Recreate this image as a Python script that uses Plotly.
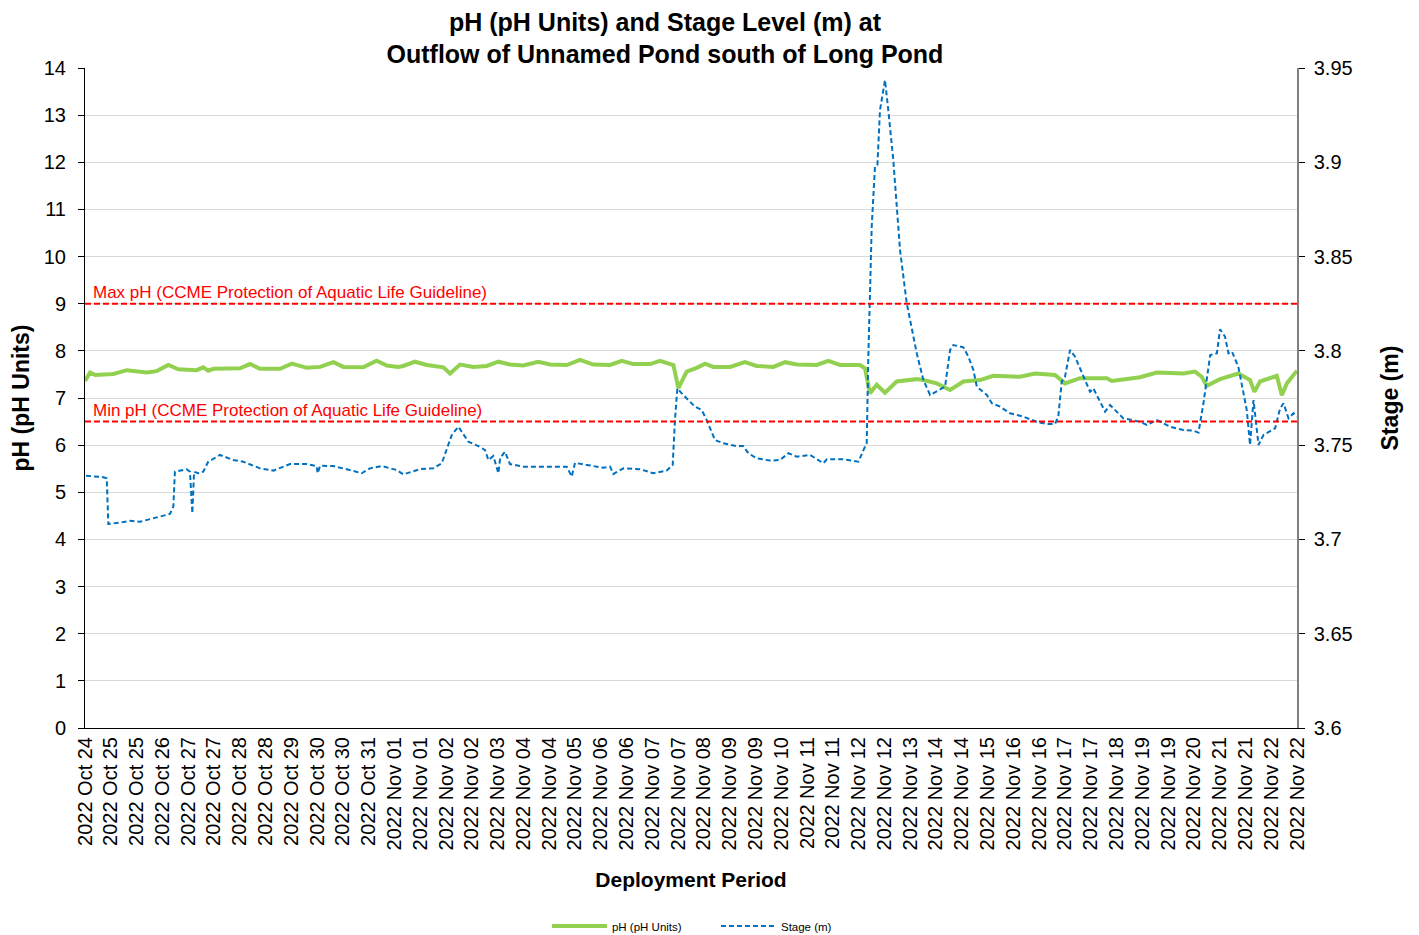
import pandas as pd
import plotly.graph_objects as go

# axis window (Excel date axis) - start time and length in hours
deploy_start = pd.Timestamp("2022-10-24 15:22")
axis_span_h = 702.2

# pH logger (hours since deploy_start)
ph_hours = [0, 2.9, 5.8, 16.4, 24.2, 30.0, 35.7, 41.5, 48.3, 54.1,
            64.7, 68.5, 71.4, 74.3, 89.8, 95.6, 101.4, 113.0, 119.8, 128.5,
            136.2, 143.9, 149.7, 161.2, 169.0, 174.8, 181.5, 184.4, 191.2, 198.0,
            207.6, 211.5, 217.3, 225.0, 232.7, 239.5, 246.2, 253.9, 262.6, 269.4,
            279.1, 286.8, 294.5, 304.2, 311.0, 317.7, 327.4, 333.2, 340.9, 343.8,
            348.6, 354.4, 359.3, 364.0, 373.7, 382.4, 389.2, 398.8, 405.6, 412.4,
            423.9, 430.7, 437.4, 449.0, 451.9, 454.8, 458.7, 463.5, 470.3, 481.9,
            485.7, 493.5, 501.2, 508.9, 518.6, 526.3, 535.0, 541.7, 550.4, 562.0,
            564.9, 567.8, 576.5, 592.0, 594.9, 601.6, 611.3, 621.0, 636.4, 643.1,
            647.0, 649.9, 657.6, 668.2, 675.0, 677.5, 680.8, 690.5, 693.4, 696.3,
            702.2]
ph_values = [7.36, 7.54, 7.49, 7.51, 7.59, 7.56, 7.54, 7.57, 7.70, 7.61,
             7.59, 7.65, 7.58, 7.62, 7.63, 7.72, 7.62, 7.62, 7.73, 7.64,
             7.66, 7.76, 7.66, 7.65, 7.79, 7.69, 7.66, 7.68, 7.77, 7.70,
             7.65, 7.52, 7.71, 7.66, 7.68, 7.77, 7.71, 7.69, 7.77, 7.71,
             7.70, 7.81, 7.71, 7.70, 7.79, 7.72, 7.72, 7.79, 7.70, 7.21,
             7.56, 7.64, 7.73, 7.66, 7.66, 7.76, 7.68, 7.66, 7.76, 7.71,
             7.70, 7.79, 7.70, 7.70, 7.63, 7.10, 7.28, 7.11, 7.35, 7.40,
             7.38, 7.31, 7.17, 7.35, 7.38, 7.47, 7.45, 7.45, 7.52, 7.49,
             7.40, 7.31, 7.42, 7.42, 7.36, 7.40, 7.44, 7.54, 7.52, 7.56,
             7.45, 7.26, 7.40, 7.52, 7.38, 7.13, 7.35, 7.47, 7.06, 7.31,
             7.58]

# stage level (m)
stage_hours = [0.6, 10.6, 12.6, 13.5, 20.3, 26.1, 31.9, 37.7, 43.5, 49.2,
               51.2, 52.1, 58.9, 60.8, 62.2, 63.2, 65.6, 68.5, 71.4, 78.2,
               85.9, 91.7, 101.4, 109.1, 118.8, 128.5, 134.2, 134.8, 136.2, 143.9,
               151.6, 160.3, 165.1, 171.9, 180.6, 184.4, 194.1, 201.8, 206.7, 209.6,
               212.5, 216.3, 222.1, 227.9, 231.8, 233.7, 236.6, 239.5, 240.5, 243.3,
               246.2, 253.9, 263.6, 273.3, 279.1, 282.0, 283.9, 290.7, 300.3, 304.2,
               306.1, 311.9, 321.6, 329.3, 337.0, 340.5, 341.8, 343.2, 346.6, 353.4,
               357.3, 360.2, 365.0, 369.8, 377.6, 381.4, 384.3, 389.2, 396.9, 402.7,
               407.5, 412.4, 420.1, 427.8, 429.8, 439.4, 448.1, 451.0, 452.9, 453.8,
               455.8, 457.7, 459.1, 460.6, 463.5, 465.4, 468.3, 472.2, 476.1, 481.9,
               485.7, 489.6, 494.4, 498.3, 501.2, 503.1, 508.9, 511.8, 514.7, 516.7,
               522.5, 525.4, 530.2, 535.9, 543.6, 551.4, 557.2, 562.0, 563.9, 565.9,
               567.8, 570.7, 573.6, 577.5, 582.3, 584.2, 591.0, 593.9, 601.6, 611.3,
               615.2, 621.0, 628.7, 636.4, 642.2, 645.1, 648.0, 651.9, 655.8, 657.6,
               660.5, 662.5, 664.5, 668.2, 673.1, 675.0, 677.0, 679.9, 682.8, 689.5,
               692.4, 694.4, 697.3, 700.2, 702.2]
stage_values = [3.7338, 3.7330, 3.7324, 3.7082, 3.7089, 3.7099, 3.7094, 3.7107, 3.7121, 3.7135,
                3.7174, 3.7359, 3.7372, 3.7359, 3.7139, 3.7359, 3.7351, 3.7359, 3.7412, 3.7448,
                3.7421, 3.7412, 3.7377, 3.7365, 3.7400, 3.7400, 3.7389, 3.7351, 3.7391, 3.7389,
                3.7372, 3.7351, 3.7377, 3.7389, 3.7368, 3.7345, 3.7373, 3.7377, 3.7404, 3.7474,
                3.7554, 3.7598, 3.7518, 3.7495, 3.7474, 3.7421, 3.7442, 3.7351, 3.7430, 3.7465,
                3.7400, 3.7386, 3.7386, 3.7386, 3.7386, 3.7333, 3.7406, 3.7395, 3.7380, 3.7386,
                3.7347, 3.7377, 3.7372, 3.7351, 3.7365, 3.7395, 3.7633, 3.7801, 3.7766, 3.7704,
                3.7686, 3.7633, 3.7527, 3.7510, 3.7495, 3.7495, 3.7457, 3.7430, 3.7418, 3.7421,
                3.7457, 3.7439, 3.7448, 3.7404, 3.7425, 3.7425, 3.7412, 3.7474, 3.7510, 3.7952,
                3.8658, 3.8977, 3.8986, 3.9277, 3.9436, 3.9277, 3.9012, 3.8535, 3.8252, 3.7987,
                3.7846, 3.7766, 3.7792, 3.7810, 3.8005, 3.8031, 3.8019, 3.7969, 3.7899, 3.7810,
                3.7766, 3.7722, 3.7704, 3.7669, 3.7651, 3.7624, 3.7612, 3.7612, 3.7651, 3.7837,
                3.7863, 3.8005, 3.7969, 3.7881, 3.7783, 3.7801, 3.7678, 3.7713, 3.7642, 3.7624,
                3.7607, 3.7633, 3.7598, 3.7580, 3.7577, 3.7566, 3.7722, 3.7978, 3.7987, 3.8114,
                3.8075, 3.7987, 3.7996, 3.7916, 3.7686, 3.7501, 3.7739, 3.7501, 3.7554, 3.7589,
                3.7695, 3.7722, 3.7642, 3.7669, 3.7651]

tick_labels = ["2022 Oct 24", "2022 Oct 25", "2022 Oct 25", "2022 Oct 26", "2022 Oct 27",
               "2022 Oct 27", "2022 Oct 28", "2022 Oct 28", "2022 Oct 29", "2022 Oct 30",
               "2022 Oct 30", "2022 Oct 31", "2022 Nov 01", "2022 Nov 01", "2022 Nov 02",
               "2022 Nov 02", "2022 Nov 03", "2022 Nov 04", "2022 Nov 04", "2022 Nov 05",
               "2022 Nov 06", "2022 Nov 06", "2022 Nov 07", "2022 Nov 07", "2022 Nov 08",
               "2022 Nov 09", "2022 Nov 09", "2022 Nov 10", "2022 Nov 11", "2022 Nov 11",
               "2022 Nov 12", "2022 Nov 12", "2022 Nov 13", "2022 Nov 14", "2022 Nov 14",
               "2022 Nov 15", "2022 Nov 16", "2022 Nov 16", "2022 Nov 17", "2022 Nov 17",
               "2022 Nov 18", "2022 Nov 19", "2022 Nov 19", "2022 Nov 20", "2022 Nov 21",
               "2022 Nov 21", "2022 Nov 22", "2022 Nov 22"]

ph_max_guideline = 9.0
ph_min_guideline = 6.5

FONT = "Liberation Sans, Arial, sans-serif"
GRID = "#D9D9D9"

ph_time = deploy_start + pd.to_timedelta(ph_hours, unit="h")
stage_time = deploy_start + pd.to_timedelta(stage_hours, unit="h")
axis_end = deploy_start + pd.Timedelta(hours=axis_span_h)
step_h = axis_span_h / (len(tick_labels) - 1)
tick_pos = [deploy_start + pd.Timedelta(hours=i * step_h) for i in range(len(tick_labels))]

fig = go.Figure()
fig.add_trace(go.Scatter(
    x=ph_time, y=ph_values, name="pH (pH Units)", mode="lines",
    line=dict(color="#92D050", width=4), yaxis="y"))
fig.add_trace(go.Scatter(
    x=stage_time, y=stage_values, name="Stage (m)", mode="lines",
    line=dict(color="#0070C0", width=2, dash="5px,3px"), yaxis="y2"))

# guideline lines
for val, label in [(ph_max_guideline, "Max pH (CCME Protection of Aquatic Life Guideline)"),
                   (ph_min_guideline, "Min pH (CCME Protection of Aquatic Life Guideline)")]:
    fig.add_shape(type="line", xref="paper", x0=0, x1=1, yref="y", y0=val, y1=val,
                  line=dict(color="#FF0000", width=2, dash="6px,3px"))
    fig.add_annotation(text=label, xref="paper", x=0.005, xanchor="left",
                       yref="y", y=val, yanchor="bottom", showarrow=False,
                       font=dict(family=FONT, size=17, color="#FF0000"))

# page body has an 8px margin, so the figure is 8px smaller than the window
fig.update_layout(
    width=1411, height=927,
    margin=dict(l=77, r=122, t=60, b=207, autoexpand=False),
    paper_bgcolor="white", plot_bgcolor="white",
    font=dict(family=FONT, color="black"),
    title=dict(text="<b>pH (pH Units) and Stage Level (m) at<br>Outflow of Unnamed Pond south of Long Pond</b>",
               x=0.4656, xanchor="center", xref="container",
               y=0.9757, yanchor="middle", yref="container",
               font=dict(size=25, color="black")),
    xaxis=dict(
        type="date", range=[deploy_start, axis_end],
        tickmode="array", tickvals=tick_pos, ticktext=tick_labels,
        tickangle=-90, tickfont=dict(size=20), ticks="",
        showgrid=False, showline=True, linecolor="black", linewidth=1,
        title=dict(text="<b>Deployment Period</b>", font=dict(size=21), standoff=22),
    ),
    # second bottom axis only for tick marks and vertical gridlines (every other label)
    xaxis2=dict(
        type="date", overlaying="x", anchor="y", side="bottom",
        range=[deploy_start, axis_end],
        tickmode="array", tickvals=tick_pos[::2], showticklabels=False,
        ticks="outside", ticklen=6, tickcolor="black",
        showgrid=True, gridcolor=GRID, gridwidth=1, showline=False,
    ),
    yaxis=dict(
        range=[0, 14], dtick=1, tickfont=dict(size=20), ticklabelstandoff=8,
        showgrid=True, gridcolor=GRID, gridwidth=1, zeroline=False,
        showline=True, linecolor="black", linewidth=1,
        ticks="outside", ticklen=6, tickcolor="black",
        title=dict(text="<b>pH (pH Units)</b>", font=dict(size=23), standoff=8),
    ),
    yaxis2=dict(
        overlaying="y", side="right", range=[3.6, 3.95], dtick=0.05,
        tickformat=".2~f", tickfont=dict(size=20), ticklabelstandoff=5,
        showgrid=False, zeroline=False,
        showline=True, linecolor="#808080", linewidth=1.5,
        ticks="outside", ticklen=6, tickcolor="black",
        title=dict(text="<b>Stage (m)</b>", font=dict(size=23), standoff=30),
    ),
    legend=dict(orientation="h", x=0.5206, xanchor="center", y=-0.30, yanchor="middle",
                font=dict(size=11.5), itemwidth=55, entrywidth=99,
                bgcolor="rgba(0,0,0,0)"),
)

fig.write_html("out.html")
